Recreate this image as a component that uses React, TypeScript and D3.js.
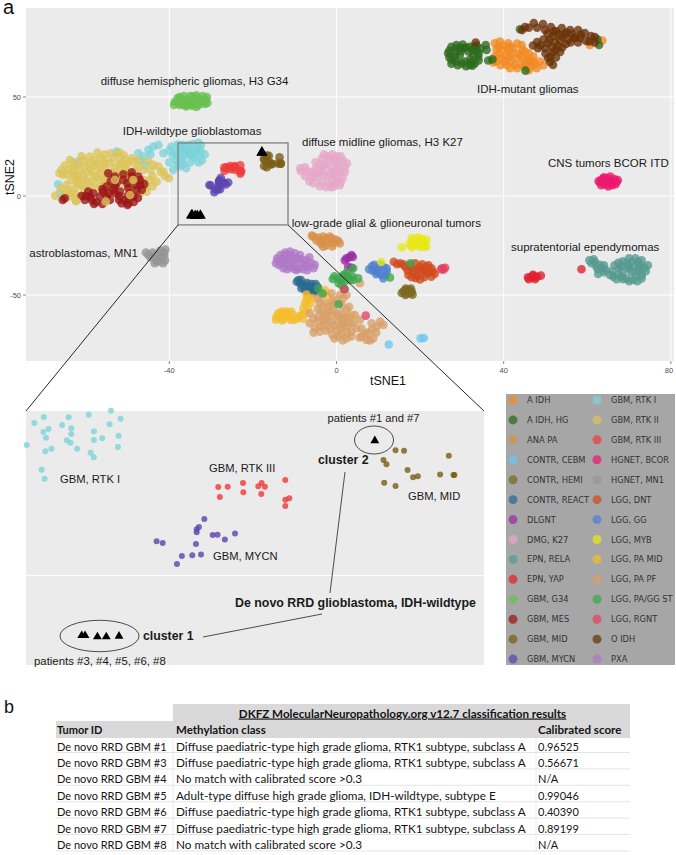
import React from "react";
import * as d3 from "d3";

type P = [number, number];

const aIdh: P[] = [[37.9,77.1],[39.1,78],[41.1,77.1],[42.3,74.6],[44.3,76.3],[45.1,72.9],[38.3,73.8],[39.9,73.8],[41.5,70.4],[47.1,70.4],[48.7,67.9],[47.9,64.5],[46.3,65.3],[44.3,66.2],[42.7,66.2],[40.7,66.2],[39.5,69.5],[37.9,70.4],[41.9,72.1],[44.7,69.5],[43.1,69.5],[45.9,69.5],[37.5,67.5],[60.6,76.3],[63.6,78.5],[41.1,74.6],[43.2,64.5],[45.5,67.5],[40.5,71],[38.8,75.5],[40,76],[41.5,75.5],[43.2,77],[44.5,74],[46,72],[47,68],[47.5,66.5],[49.5,66],[46,63.5],[45,65.5],[41.5,64.5],[39.2,66],[38.2,68],[40.2,68],[41.7,68],[38.8,71.8],[43.6,72],[46.5,68],[44,71]];
const aIdhHg: P[] = [[26.7,72.1],[27.5,75.4],[28.7,76.3],[30.3,74.6],[31.9,75.4],[33.5,73.8],[33.9,70.4],[33.1,67],[31.9,66.2],[30.7,67.9],[28.7,67.9],[27.5,68.7],[29.5,71.2],[32.7,71.2],[28.3,72.1],[29.5,75],[31.5,73],[33,75.5],[30,67],[32,69],[35.7,76.3],[35.9,73.8],[36.3,68.4],[37.3,69],[45.2,63.3],[43.9,84.2],[62.4,79.1],[62.8,76.3],[27,70],[27,73.5],[28.3,70],[28.5,74.5],[30.2,76.5],[31,75],[32.5,73.5],[34,72],[34,68.5],[32.5,65.8],[31,65.5],[29,66],[27.5,66.8],[33.5,76],[29.7,73.2],[32.2,67.5],[34.5,74.5]];
const anaPa: P[] = [[-5.6,-20.5],[-4.4,-21],[-3.2,-20.5],[-1.6,-20.5],[-3.6,-23.1],[-2,-23.1],[-3.2,-25.6],[-0.8,-23.9],[0.4,-22.6],[-1.2,-21.4],[-5.9,-20],[-4.8,-22.5],[-3.8,-24],[-2.5,-25],[-1,-25.5],[-0.3,-22],[0.8,-24],[-2.5,-21.5]];
const contrCebm: P[] = [[12.5,-75],[20.1,-71.9],[20.9,-71.7]];
const contrHemi: P[] = [[16,-48.3],[16.4,-47.5],[17,-48.3],[17.4,-47.5],[18,-48.3],[16.8,-49.3],[17.6,-49.1],[16.6,-46.7],[17.8,-46.7],[15.6,-49],[18.2,-49.8],[16.5,-50],[17,-47.8]];
const contrReact: P[] = [[-9.5,-43.3],[-8.7,-44.1],[-7.5,-44.9],[-8.4,-46.6],[-6.8,-47.5],[-7.2,-46.1],[-5.6,-46.6],[-6,-49.1],[-5.2,-45.8],[-9.1,-42.4],[-7.5,-47.5],[-6.4,-45.8],[-4.8,-48.3],[-8.5,-42.5],[-7,-44],[-6,-44.5],[-8,-45.5],[-5.5,-48],[-6.8,-49],[-4.5,-46],[-5,-44.5]];
const dlgnt: P[] = [[3.6,-29.8],[2.4,-31.5],[3,-31],[3.6,-36.2],[2.8,-35.7],[3.9,-30.8],[2,-32.5]];
const dmgK27: P[] = [[-8.5,12.5],[-7.5,14.5],[-7.5,10],[-6.5,7.5],[-6,12],[-5,14],[-4.5,9.5],[-3.5,19],[-3.5,13],[-3.5,7],[-2.5,16],[-2,20],[-2,10],[-2,6],[-1,14],[-0.5,18],[-0.5,11],[0,7],[0,20],[0.5,15],[1,12],[1.5,9],[1.5,18],[2.5,16.5],[0.8,5.5],[-5,17],[-1.2,4.5],[-8.7,14],[-7,12.5],[-6,9.5],[-5.5,6.5],[-5,11],[-4,16],[-4.2,12],[-3,10.5],[-3,21],[-3,15],[-1.5,18],[-1.5,12],[-1,8],[-1,21],[0,13],[0,10],[0,17],[1,20],[1,7],[2,12],[2,14.5],[-0.5,5],[-2.5,4.5],[-4,5]];
const epnRela: P[] = [[61,-34],[61.8,-33.2],[62.2,-35.7],[63,-34.8],[62.6,-39.4],[63.8,-36.5],[65.4,-39.9],[66.2,-40.7],[67.4,-33.7],[67.6,-36.2],[68.2,-40.7],[69.4,-34],[70.6,-33.2],[72.1,-33.2],[73.7,-36.2],[73,-41.6],[71,-42.4],[69.4,-41.6],[70.6,-38.2],[72.1,-38.2],[69.8,-35.7],[71,-35.7],[72.5,-34.8],[67.4,-39.9],[64.5,-37.5],[61.5,-32],[62.5,-37],[64,-35],[64,-38.5],[66,-38],[67,-42],[68.5,-38],[70,-31.5],[71.5,-31.5],[73,-32.5],[74.5,-35],[74,-38],[72,-43],[70,-43],[68.5,-42],[70,-37],[71.5,-40],[73,-40],[68.5,-33],[72.5,-36.5],[60.5,-32.5],[66.5,-35],[68,-35.5]];
const epnYap: P[] = [[45.8,-41],[46.6,-41],[47.4,-41],[48,-40.7],[48.9,-40.2],[47,-40.2],[58.6,-37],[46,-42],[47.5,-42],[47,-39.8]];
const gbmG34: P[] = [[-38.7,47.5],[-38,49.5],[-37.5,46],[-37,48.5],[-36.5,50.5],[-36,46],[-35.5,48],[-35,50.5],[-34.5,45.5],[-34,48],[-33.5,50.8],[-33,46],[-32.5,48.5],[-32,50.5],[-31.5,46.5],[-31.2,48.5],[-36,45.2],[-33.5,45],[-37.8,47],[-36.8,46.2],[-35,46.5],[-33.7,47],[-32,47.5],[-30.9,47],[-37.5,50],[-34.3,50.3],[-33,49.5],[-36.3,48.5],[-38.9,46],[-31,50]];
const gbmMes: P[] = [[-65,-1.1],[-59.4,2.2],[-58.6,-2],[-59,-0.3],[-56.6,-0.3],[-55,-0.3],[-53.4,3.1],[-52.6,6.4],[-54.6,11.5],[-53,1.4],[-54.2,-2],[-50.6,-2],[-49.8,-3.7],[-48.6,-0.3],[-47,5.6],[-46.6,3.1],[-49,9.8],[-47.4,9.8],[-49.4,1.4],[-51.8,2.2],[-51.4,-3.7],[-55.8,2.2],[-47.8,3.1],[-55,4.8],[-51,8.1],[-53,9.8],[-49.8,3.9],[-58.2,1.4],[-60.2,-2],[-60,0],[-57.5,-3],[-56,3.5],[-54.5,1.5],[-53,5],[-52,0],[-52,-2],[-50,0],[-50,-4.5],[-48.5,-3],[-47.5,-1],[-47,8],[-48,5.5],[-50,6.5],[-54,7.5],[-51,11],[-49,12],[-46,6],[-58,-4],[-56,-4],[-65.5,-2],[-61,0]];
const gbmMid: P[] = [[-16.68,20.39],[-16.19,20.34],[-17.37,18.82],[-17.2,18.11],[-15.99,17.19],[-15.67,15.99],[-15.4,16.16],[-14.12,16.43],[-13.35,16.37],[-13.3,16.37],[-13.62,19.52],[-17.33,15.12],[-16.68,14.58]];
const gbmMycn: P[] = [[-27.66,9.21],[-27.97,7.9],[-28.1,7.52],[-28.1,7.03],[-27.18,6.6],[-26.9,6.65],[-25.9,6.82],[-26.48,5.84],[-30.4,5.57],[-30.05,5.3],[-28.14,5.13],[-28.95,3.18],[-28.35,3.29],[-27.85,3.4],[-29.23,1.87]];
const gbmRtk1: P[] = [[-37.42,24.84],[-36.88,25.82],[-35.45,25.77],[-34.3,26.2],[-33.02,26.85],[-32.47,25.55],[-35.83,24.52],[-35.3,23.97],[-36.6,23.87],[-36.9,23.38],[-35.3,23.05],[-36.75,22.45],[-34,23.49],[-33.1,24.63],[-32.58,22.78],[-33.52,22.35],[-34,22.07],[-35.56,22.02],[-35.35,21.64],[-37.86,21.26],[-36.44,20.66],[-36.79,20.23],[-34.97,20.66],[-32.62,20.93],[-34.19,20.01],[-34.01,19.25],[-37,17.24],[-36.83,15.77]];
const gbmRtk1Outer: P[] = [[-47.4,21.6],[-46.2,19.9],[-45,23.3],[-43.8,25],[-42.6,25.8],[-41.4,21.6],[-39.5,25],[-39.2,20.7],[-38.3,18.2],[-45.8,15.7],[-39.1,13.2],[-37.5,14.9],[-52.6,22.4],[-61.8,17.4],[-66.6,5.9],[-66.2,1.4],[-40,23],[-38.5,22],[-38,26],[-37,19],[-36,14],[-35,17],[-33,17],[-32.2,18],[-31.5,21],[-38,16],[-44.5,21],[-47,18],[-40,17]];
const gbmRtk2: P[] = [[-67.3,0.2],[-65.8,13.2],[-65.4,10.6],[-63.8,18.2],[-64.2,13.2],[-63,14.9],[-61.8,15.7],[-60.6,18.2],[-61.4,13.2],[-62.6,10.6],[-60.6,10.6],[-59.4,16.5],[-58.6,13.2],[-57.2,21.9],[-57.4,16.5],[-56.6,11.5],[-55.4,16.5],[-54,21.6],[-54.2,16.5],[-53,14],[-52,19.9],[-50.9,20.7],[-49.8,16.5],[-48.6,17.4],[-51.8,13.2],[-50.6,13.2],[-48.2,13.2],[-46.2,13.2],[-45,17.4],[-43.8,15.7],[-42.6,14.9],[-41.4,12.3],[-40.1,9],[-43,7.3],[-44.6,8.1],[-45.4,2.2],[-47,1.4],[-49,-0.3],[-49.4,5.6],[-50.6,4.8],[-48.6,8.1],[-61,5.6],[-62.6,3.9],[-64.2,3.1],[-63.8,-0.3],[-62.3,0.5],[-61.4,-0.3],[-64.6,5.6],[-57.4,9.8],[-56.2,8.1],[-57.8,6.4],[-55,10.6],[-53,8.1],[-55.2,-2.8],[-61.8,9.8],[-59.4,7.3],[-62.3,-2.5],[-50.2,9.8],[-55.4,14],[-59,19.9],[-51.4,16.5],[-66.3,11.5],[-65,15.5],[-64.5,11],[-63,17],[-63,12],[-62,8],[-61,20],[-60,15],[-60,8],[-59.5,12],[-58,18],[-58,15],[-58,10],[-56.5,19],[-56.5,14],[-55.5,21],[-55.5,18],[-55.5,8],[-53.5,19],[-53.5,12],[-52,22],[-52,16],[-52,10],[-50.5,18],[-50.5,15],[-49,19],[-49,11],[-47.3,15],[-47.3,18],[-44.5,13],[-42,12],[-41,10],[-44,10],[-46,8],[-45.5,5],[-63.5,1.5],[-65,1],[-60.5,3.5],[-66,4],[-62,6.5],[-63.5,8],[-59,4.5],[-57,3.5],[-56,5],[-54,6.5],[-44,5]];
const gbmRtk3: P[] = [[-26.86,14.42],[-26.32,14.47],[-25.44,15.07],[-25.42,13.55],[-24.56,14.53],[-24.37,15.07],[-24.18,14.47],[-24.39,13.28],[-23.01,15.56],[-26.77,12.79],[-23.01,12.35],[-22.78,12.57],[-23.01,11.32]];
const hgnetBcor: P[] = [[63,7],[63.5,8.5],[64,6],[64.5,7.5],[65,9],[65,5.8],[65.5,7.5],[66,6.5],[66.5,8.5],[67,7.2],[64,8.8],[66,5.5],[62.7,7.5],[63.3,5.5],[64,9.5],[65.5,9.8],[66.8,6],[67.3,8],[65,4.8]];
const hgnetMn1: P[] = [[-45.6,-28.5],[-45,-29.8],[-44,-28.5],[-43.5,-31.5],[-43.2,-29.8],[-42.5,-33],[-42,-31.5],[-41.2,-28.5],[-41.2,-30],[-41,-32.5],[-42,-29],[-43,-33],[-44.5,-31],[-42.2,-27.5],[-40.9,-27],[-43.5,-34],[-41.5,-34]];
const lggDnt: P[] = [[13.7,-33.2],[15.2,-34],[16.4,-35.7],[17.6,-34.8],[18.8,-34],[20,-35.7],[21.5,-35.7],[22.7,-36.5],[23.5,-39.4],[17.2,-39.9],[18.4,-38.2],[20,-38.2],[21.5,-39],[20,-42.1],[22.7,-40.7],[19.1,-39.9],[14.5,-34.5],[16,-34.5],[18,-36.5],[19.5,-37],[21,-37.5],[22,-38.5],[17,-37.5],[19,-41.5],[21,-41],[18,-41],[23,-38],[20.5,-34.5],[22,-35]];
const lggGg: P[] = [[7.8,-37],[9,-34.8],[10,-36.5],[11.2,-35.7],[12,-38.2],[10.8,-39.9],[10,-38.7],[11.2,-41.6],[8.6,-37.7],[8.5,-35.5],[9.3,-37.5],[10.5,-34.5],[12,-36.5],[9.5,-39.5],[11.7,-40]];
const lggMyb: P[] = [[17.9,-23.1],[19.2,-22.2],[20.3,-23.6],[21.1,-23.9],[18.4,-24.7],[20,-25.6],[20.9,-25.6],[15.6,-25.9],[18,-21.4],[10.7,-33.3],[19,-24.5],[21.5,-22],[19.5,-21],[18,-26],[20.5,-21.7],[21.5,-25.5],[17.5,-24.5]];
const lggPaMid: P[] = [[-14.3,-60.9],[-13.1,-58.4],[-13.9,-59.2],[-11.9,-60.9],[-10.7,-60.1],[-10.3,-62.6],[-9.1,-60.9],[-8.4,-60.1],[-7.9,-56.7],[-7.5,-54.2],[-6.8,-51.7],[-11.9,-58.4],[-12.7,-61.8],[-11.1,-62.3],[-2.8,-47.5],[-2,-50.8],[-1.2,-55],[3.6,-60.1],[-7.2,-52.5],[-14.5,-62.5],[-13,-62.8],[-12.5,-59],[-10.8,-58.5],[-9.5,-62],[-8,-62],[-7.5,-59],[-6.9,-57],[-6.2,-54],[-5.8,-51.5],[-7.2,-49.8]];
const lggPaPf: P[] = [[-4.4,-51.7],[-2.8,-54.2],[-3.6,-57.6],[-2,-58.4],[-4.4,-60.9],[-2.8,-60.9],[-1.2,-60.1],[0,-59.2],[1.2,-59.2],[2,-61.8],[2.4,-57.6],[-6.4,-64.3],[-5.2,-66.8],[-4,-68.5],[-2.8,-65.1],[-1.2,-63.4],[0.4,-63.4],[1.6,-65.1],[3.2,-64.3],[0,-67.7],[1.2,-69.3],[2.4,-71.9],[0.4,-71],[4.8,-66.8],[6,-71],[7.2,-72.7],[8.8,-71.9],[6.8,-69.3],[9.6,-66],[11.2,-65.1],[8.4,-64.3],[10.4,-63.4],[5.6,-62.6],[3.6,-68.5],[4.4,-60.1],[-1.2,-49.1],[0,-52.5],[1.6,-51.7],[2.4,-50],[-6.4,-59.2],[-1.6,-66.8],[-4.4,-63.4],[5.6,-44.1],[-0.4,-54.2],[-4,-54],[-3.5,-50],[-2,-56],[-2.2,-62.8],[-0.8,-57.5],[-5.5,-62],[-3,-63],[-5.5,-69],[-2.5,-68],[-1,-70],[0.5,-61],[1,-67],[2.5,-66],[3,-61],[4,-64],[2.5,-69],[3.5,-71],[-0.5,-65.5],[1.5,-62.8],[-3.8,-66],[5.5,-71.5],[6,-67],[7.5,-69],[8.5,-67.5],[9.5,-69],[8,-73],[-0.5,-72],[1.5,-73],[-1,-53],[1.2,-55],[3,-56],[-4.5,-57],[-3,-59.5],[0.8,-50]];
const lggPaGgSt: P[] = [[-0.9,-41.9],[0.4,-41.6],[2,-39.9],[1.2,-42.4],[3.2,-42.4],[5.2,-41.6],[1.2,-44.9],[1.6,-39.9],[2.8,-40.7],[-4.4,-46.6],[-3.3,-49.1],[0.5,-54.7],[17.7,-34],[12.8,-41.2],[4,-36.5],[4,-42.4],[2,-43],[2.5,-38.5],[0.5,-44],[2,-47],[-0.5,-40.5],[3.8,-40.5]];
const lggRgnt: P[] = [[1.8,-47.1],[7,-60.4],[25.3,-36.5],[25,-37],[26,-36.2],[25.6,-37.2]];
const oIdh: P[] = [[33.3,77.5],[44.4,83.8],[45.1,85.3],[47.2,87.4],[49.4,86.9],[51.3,85.3],[52.5,83.3],[49.9,83.8],[53.9,84.8],[55.9,83.8],[57.8,83.8],[59.4,82.3],[60.9,80.8],[61.8,80.3],[51.8,80.8],[53,81.8],[54.6,81.8],[56.3,81.8],[58.2,79.8],[59.7,78.3],[52.3,77.8],[53.5,78.8],[55.4,78.8],[56.8,79.8],[50.6,77.3],[48,77.8],[48.2,74.7],[51.5,75.2],[53,75.8],[54.9,76.8],[49.9,74.7],[51.8,72.7],[53.5,72.7],[50.6,69.7],[51.1,67.7],[51.8,66.2],[46,85],[48,85],[50.5,82],[52,83],[54,80.5],[55,82.5],[57,80],[58.5,81.5],[60.5,78],[56,77.5],[54,75],[52.5,74],[51,79],[49.5,79],[50,72],[52.5,70],[47,76],[48.8,76],[51.2,70.5],[57.8,77.5],[61.8,77.5]];
const pxa: P[] = [[-14.1,-32.8],[-13.4,-29.8],[-12.3,-28.6],[-11.1,-28.1],[-9.9,-29],[-13.1,-34],[-11.9,-32.3],[-10.7,-31.5],[-9.5,-31.5],[-8.7,-29.8],[-12.7,-36.5],[-10.3,-34.8],[-9.1,-36.5],[-8.4,-34],[-7.2,-32.3],[-6,-34],[-5.2,-34.8],[-6.8,-35.7],[-7.5,-34.8],[-9.5,-37.4],[-11.5,-34.8],[-14.2,-31.5],[-13.7,-35],[-12.5,-30],[-12.5,-33],[-11,-30],[-11,-36],[-10,-32.5],[-10,-37],[-8.5,-32],[-8,-37],[-7,-37.5],[-6.5,-31],[-5.5,-36.5],[-14.5,-34],[-13,-32],[-11.8,-37]];
const rtk2OverMes: P[] = [[-49.4,0.5],[-55.2,-2.8],[-62.3,-2.5],[-53,8.1],[-48.6,8.1]];

const patientsCluster1: P[] = [[-34.7,-9.8],[-34.51,-9.8],[-33.8,-10],[-33.29,-10],[-32.56,-9.9]];
const patientsCluster2: P[] = [[-17.87,21.97],[-17.82,21.97]];

const classNames = ["A IDH","A IDH, HG","ANA PA","CONTR, CEBM","CONTR, HEMI","CONTR, REACT","DLGNT","DMG, K27","EPN, RELA","EPN, YAP","GBM, G34","GBM, MES","GBM, MID","GBM, MYCN","GBM, RTK I","GBM, RTK II","GBM, RTK III","HGNET, BCOR","HGNET, MN1","LGG, DNT","LGG, GG","LGG, MYB","LGG, PA MID","LGG, PA PF","LGG, PA/GG ST","LGG, RGNT","O IDH","PXA"];
const classColors = ["#f28a22","#2c6a1c","#d98f48","#6cc6f0","#7a6a20","#2a6a92","#9a2ca2","#e6a6c8","#569a90","#e0202e","#66c04e","#9c1414","#7a5c14","#5e44ae","#7cd4da","#dcc45a","#ee3a3a","#ec1870","#959595","#cf4a1c","#5080d0","#e8e816","#f5bc2c","#d99f68","#3ca64e","#e4405e","#6a3208","#b078c8"];
const classPoints: P[][] = [aIdh,aIdhHg,anaPa,contrCebm,contrHemi,contrReact,dlgnt,dmgK27,epnRela,epnYap,gbmG34,gbmMes,gbmMid,gbmMycn,[...gbmRtk1,...gbmRtk1Outer],gbmRtk2,gbmRtk3,hgnetBcor,hgnetMn1,lggDnt,lggGg,lggMyb,lggPaMid,lggPaPf,lggPaGgSt,lggRgnt,oIdh,pxa];
const drawOrder = ["GBM, RTK I","GBM, RTK II","GBM, MES",...classNames.filter(n => !["GBM, RTK I","GBM, RTK II","GBM, MES"].includes(n))];

const insetNames = ["GBM, RTK I","GBM, RTK III","GBM, MYCN","GBM, MID"];
const insetPoints: P[][] = [gbmRtk1,gbmRtk3,gbmMycn,gbmMid];

const xTicks = [-40,0,40,80];
const yTicks = [50,0,-50];
const zoomX: [number, number] = [-37.9,-11.6];
const zoomY: [number, number] = [26.8,-14.6];

const tumorIds = ["De novo RRD GBM #1","De novo RRD GBM #3","De novo RRD GBM #4","De novo RRD GBM #5","De novo RRD GBM #6","De novo RRD GBM #7","De novo RRD GBM #8"];
const methylationClasses = ["Diffuse paediatric-type high grade glioma, RTK1 subtype, subclass A","Diffuse paediatric-type high grade glioma, RTK1 subtype, subclass A","No match with calibrated score >0.3","Adult-type diffuse high grade glioma, IDH-wildtype, subtype E","Diffuse paediatric-type high grade glioma, RTK1 subtype, subclass A","Diffuse paediatric-type high grade glioma, RTK1 subtype, subclass A","No match with calibrated score >0.3"];
const scores = ["0.96525","0.56671","N/A","0.99046","0.40390","0.89199","N/A"];

const sx = d3.scaleLinear().domain([0,40]).range([336.5,503.7]);
const sy = d3.scaleLinear().domain([0,50]).range([196,97]);
const ix = d3.scaleLinear().domain(zoomX).range([26,484]);
const iy = d3.scaleLinear().domain(zoomY).range([411,665]);
const tri = (size: number) => d3.symbol(d3.symbolTriangle, size)() as string;
const SANS = "'Liberation Sans', Arial, sans-serif";

const mainLabels: [string, number, number][] = [
  ["diffuse hemispheric gliomas, H3 G34",100.7,85],
  ["IDH-wildtype glioblastomas",122.7,135.3],
  ["diffuse midline gliomas, H3 K27",302,145.5],
  ["IDH-mutant gliomas",477,92.7],
  ["CNS tumors BCOR ITD",548,166.7],
  ["low-grade glial & glioneuronal tumors",291.7,226.7],
  ["supratentorial ependymomas",511,250.7],
  ["astroblastomas, MN1",29.3,256.7],
];
const insetLabels: [string, number, number, number, boolean][] = [
  ["patients #1 and #7",327.5,421.5,11.2,false],
  ["cluster 2",318,464,12.3,true],
  ["GBM, RTK I",60,482.5,11.2,false],
  ["GBM, RTK III",209,472,11.2,false],
  ["GBM, MID",408,499.7,11.2,false],
  ["GBM, MYCN",213,560,11.2,false],
  ["De novo RRD glioblastoma, IDH-wildtype",235,606.7,12.4,true],
  ["cluster 1",143,640,12.3,true],
  ["patients #3, #4, #5, #6, #8",34,664.5,11.4,false],
];

export default function App() {
  const rowY = (i: number) => 747 + i * 16.4;
  return (
    <svg width={676} height={855} style={{position:"absolute",left:0,top:0,background:"#fff"}} fontFamily={SANS}>
      <text x={3} y={14} fontSize={20} fill="#111">a</text>
      <rect x={26} y={8} width={648} height={353} fill="#ebebeb"/>
      {xTicks.map(t => <line key={t} x1={sx(t)} x2={sx(t)} y1={8} y2={361} stroke="#fff" strokeWidth={1}/>)}
      {yTicks.map(t => <line key={t} x1={26} x2={674} y1={sy(t)} y2={sy(t)} stroke="#fff" strokeWidth={1}/>)}
      {xTicks.map(t => <g key={t}>
        <line x1={sx(t)} x2={sx(t)} y1={361} y2={364} stroke="#555" strokeWidth={.7}/>
        <text x={Math.min(sx(t),669)} y={373} fontSize={7.5} textAnchor="middle" fill="#4d4d4d">{t}</text>
      </g>)}
      {yTicks.map(t => <g key={t}>
        <line x1={23} x2={26} y1={sy(t)} y2={sy(t)} stroke="#555" strokeWidth={.7}/>
        <text x={21} y={sy(t)+2.7} fontSize={7.5} textAnchor="end" fill="#4d4d4d">{t}</text>
      </g>)}
      <text transform="translate(14,177) rotate(-90)" fontSize={12.5} textAnchor="middle" fill="#111">tSNE2</text>
      <text x={388} y={385} fontSize={12.5} textAnchor="middle" fill="#111">tSNE1</text>

      {drawOrder.map(name => {
        const c = classNames.indexOf(name);
        return <g key={name} fill={classColors[c]} fillOpacity={.78}>
          {classPoints[c].map((p,i) => <circle key={i} cx={sx(p[0])} cy={sy(p[1])} r={4.3}/>)}
        </g>;
      })}
      <g fill={classColors[classNames.indexOf("GBM, RTK II")]} fillOpacity={.78}>
        {rtk2OverMes.map((p,i) => <circle key={i} cx={sx(p[0])} cy={sy(p[1])} r={4.3}/>)}
      </g>
      {[...patientsCluster1,...patientsCluster2].map((p,i) => <path key={i} d={tri(52)} transform={`translate(${sx(p[0])},${sy(p[1])})`} fill="#000"/>)}

      <rect x={sx(zoomX[0])} y={sy(zoomY[0])} width={sx(zoomX[1])-sx(zoomX[0])} height={sy(zoomY[1])-sy(zoomY[0])} fill="none" stroke="#7f7f7f" strokeWidth={1.3}/>
      {mainLabels.map(([t,x,y]) => <text key={t} x={x} y={y} fontSize={11.5} fill="#1a1a1a">{t}</text>)}

      <rect x={26} y={411} width={458} height={254} fill="#ebebeb"/>
      <line x1={26} x2={484} y1={iy(0)} y2={iy(0)} stroke="#fff" strokeWidth={1}/>
      <line x1={sx(zoomX[0])} y1={sy(zoomY[1])} x2={26} y2={411} stroke="#111" strokeWidth={.9}/>
      <line x1={sx(zoomX[1])} y1={sy(zoomY[1])} x2={484} y2={411} stroke="#111" strokeWidth={.9}/>
      {insetPoints.map((pts,k) => {
        const c = classNames.indexOf(insetNames[k]);
        return <g key={k} fill={classColors[c]} fillOpacity={.8}>
          {pts.map((p,i) => <circle key={i} cx={ix(p[0])} cy={iy(p[1])} r={3}/>)}
        </g>;
      })}
      {[...patientsCluster1,...patientsCluster2.slice(0,1)].map((p,i) => <path key={i} d={tri(34)} transform={`translate(${ix(p[0])},${iy(p[1])})`} fill="#000"/>)}
      <ellipse cx={374} cy={440} rx={19.5} ry={14} fill="none" stroke="#222" strokeWidth={.8}/>
      <ellipse cx={99.5} cy={636} rx={39.5} ry={15.7} fill="none" stroke="#222" strokeWidth={.8}/>
      <line x1={345} y1={472} x2={330} y2={593} stroke="#222" strokeWidth={.8}/>
      <line x1={322} y1={614} x2={203} y2={637} stroke="#222" strokeWidth={.8}/>
      {insetLabels.map(([t,x,y,s,b]) => <text key={t} x={x} y={y} fontSize={s} fontWeight={b?"bold":"normal"} fill="#1a1a1a">{t}</text>)}

      <rect x={506} y={394} width={169} height={271} fill="#a6a6a6"/>
      {classNames.map((n,i) => {
        const col = i < 14 ? 0 : 1;
        const row = i % 14;
        const y = 400 + row * 19.93;
        return <g key={n}>
          <circle cx={col?597:513} cy={y} r={4.5} fill={classColors[i]} fillOpacity={.72}/>
          <text x={col?611:527} y={y+3} fontSize={8.3} fontFamily="'DejaVu Sans', sans-serif" fill="#333">{n}</text>
        </g>;
      })}

      <text x={4} y={713} fontSize={18} fill="#111">b</text>
      <g fontFamily="Lato, sans-serif" fontSize={11} fill="#141414">
        <rect x={173} y={704} width={457} height={17} fill="#d9d9d9"/>
        <rect x={56} y={721} width={574} height={17} fill="#d9d9d9"/>
        <text x={402.5} y={717.5} textAnchor="middle" fontWeight="bold" fontSize={11.65} textDecoration="underline">DKFZ MolecularNeuropathology.org v12.7 classification results</text>
        <text x={57} y={734} fontWeight="bold">Tumor ID</text>
        <text x={176} y={734} fontWeight="bold" fontSize={11.5}>Methylation class</text>
        <text x={538} y={734} fontWeight="bold" fontSize={11.6}>Calibrated score</text>
        {tumorIds.map((id,i) => <g key={id}>
          <line x1={56} x2={630} y1={rowY(i)+5.5} y2={rowY(i)+5.5} stroke="#dedede" strokeWidth={.8}/>
          <text x={57} y={rowY(i)+3.5}>{id}</text>
          <text x={176} y={rowY(i)+3.5} fontSize={11.75}>{methylationClasses[i]}</text>
          <text x={538} y={rowY(i)+3.5}>{scores[i]}</text>
        </g>)}
        <line x1={173} x2={173} y1={738} y2={852} stroke="#e4e4e4" strokeWidth={.8}/>
        <line x1={536} x2={536} y1={738} y2={852} stroke="#e4e4e4" strokeWidth={.8}/>
      </g>
    </svg>
  );
}
